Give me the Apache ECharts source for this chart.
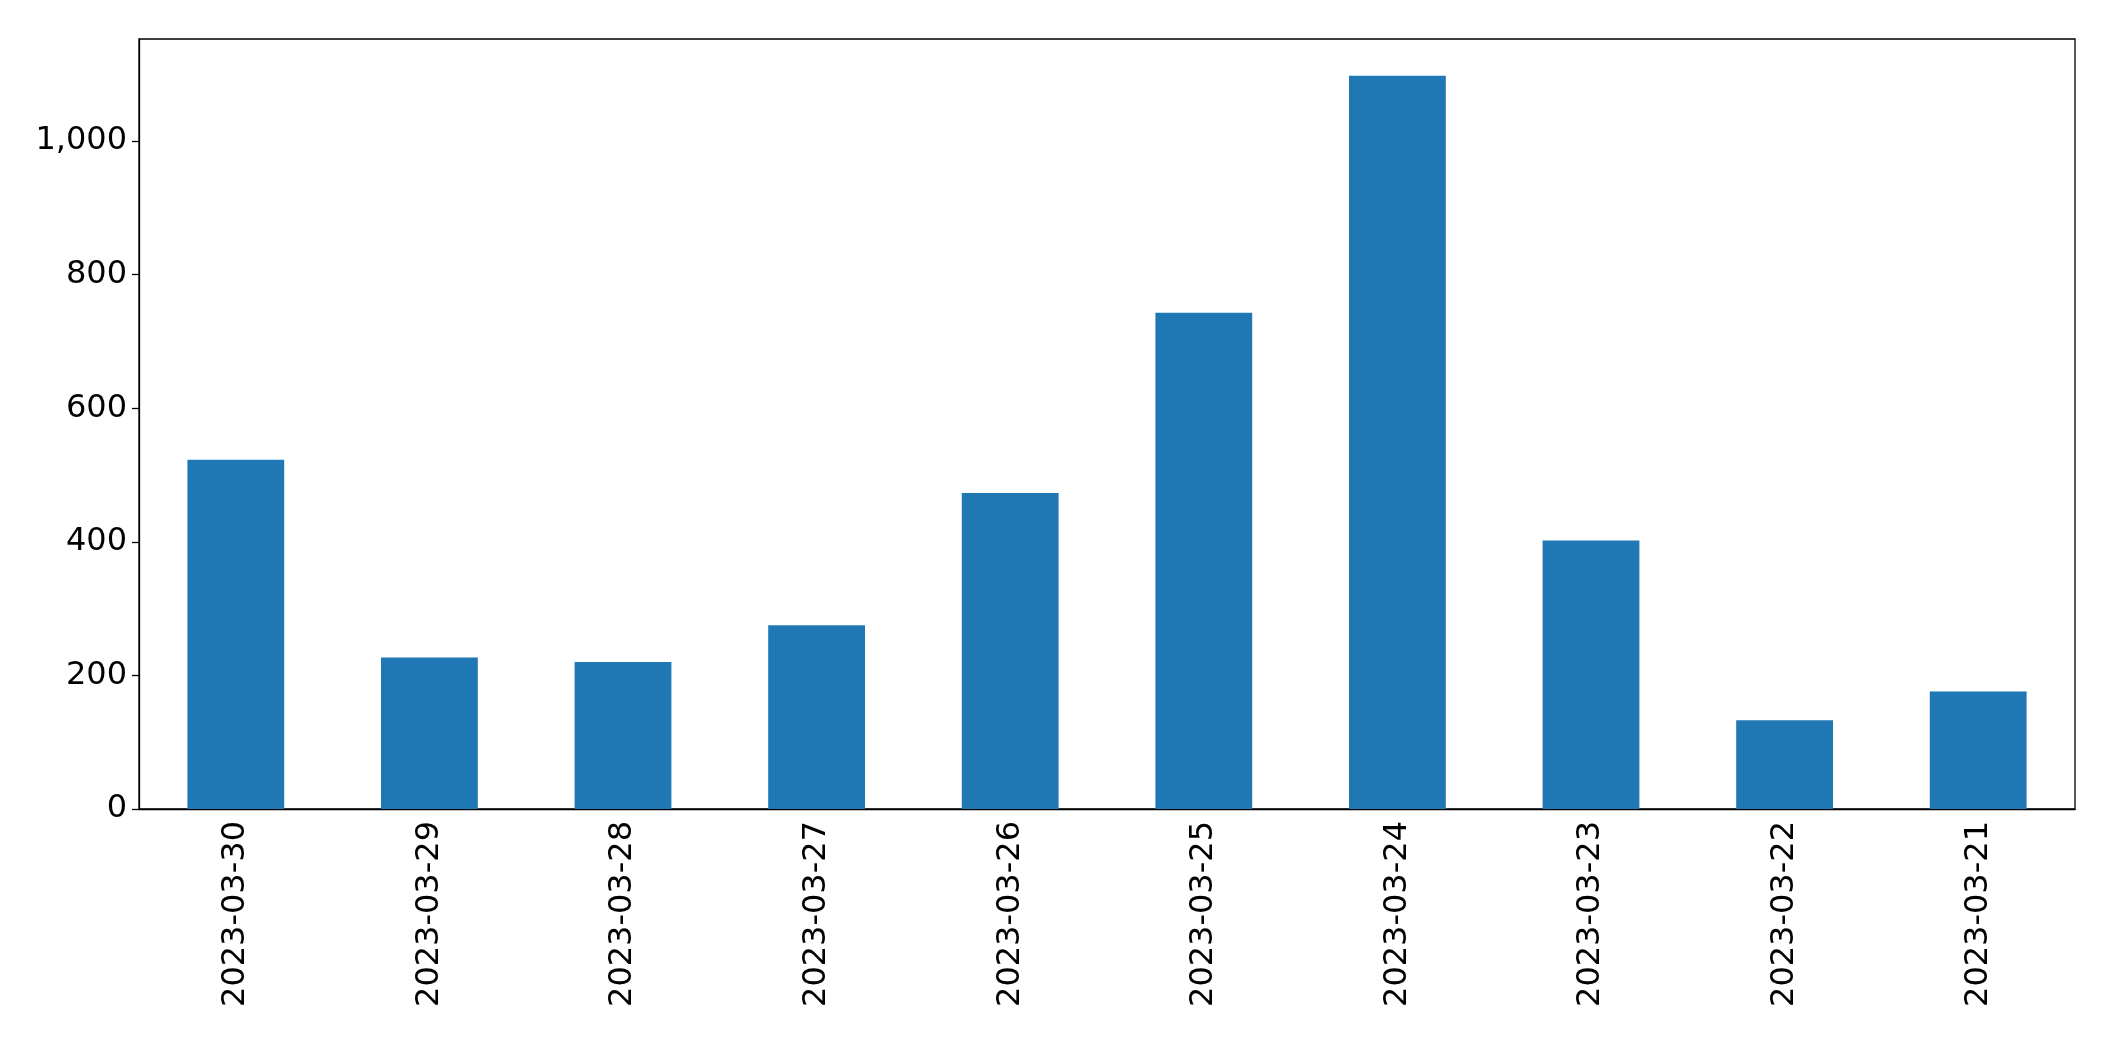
<!DOCTYPE html>
<html><head><meta charset="utf-8">
<script src="https://cdn.jsdelivr.net/npm/echarts@6/dist/echarts.min.js"></script>
<style>html,body{margin:0;padding:0;background:#fff}#c{width:2115px;height:1061px}</style>
</head><body><div id="c"></div>
<script>
const categories = ['2023-03-30','2023-03-29','2023-03-28','2023-03-27','2023-03-26','2023-03-25','2023-03-24','2023-03-23','2023-03-22','2023-03-21'];
const values = [523, 227, 220, 275, 473, 743, 1098, 402, 133, 176];
const chart = echarts.init(document.getElementById('c'));
chart.setOption({
  animation: false,
  grid: {left: 139, right: 40, top: 39, bottom: 252, show: true, borderColor: '#000', borderWidth: 1.3, backgroundColor: 'transparent'},
  xAxis: {type: 'category', data: categories, boundaryGap: true,
    axisLine: {lineStyle: {color: '#000', width: 1.3}},
    axisTick: {alignWithLabel: true, length: 7, lineStyle: {color: '#000', width: 1.3}},
    axisLabel: {rotate: 90, color: '#000', fontSize: 32, fontFamily: 'DejaVu Sans', margin: 12}},
  yAxis: {type: 'value', min: 0, max: 1153, interval: 200,
    splitLine: {show: false},
    axisLine: {show: true, lineStyle: {color: '#000', width: 1.3}},
    axisTick: {show: true, length: 7, lineStyle: {color: '#000', width: 1.3}},
    axisLabel: {color: '#000', fontSize: 32, fontFamily: 'DejaVu Sans', margin: 12, showMaxLabel: false}},
  series: [{type: 'bar', data: values, barWidth: '50%', itemStyle: {color: '#1f77b4'}}]
});
</script></body></html>
